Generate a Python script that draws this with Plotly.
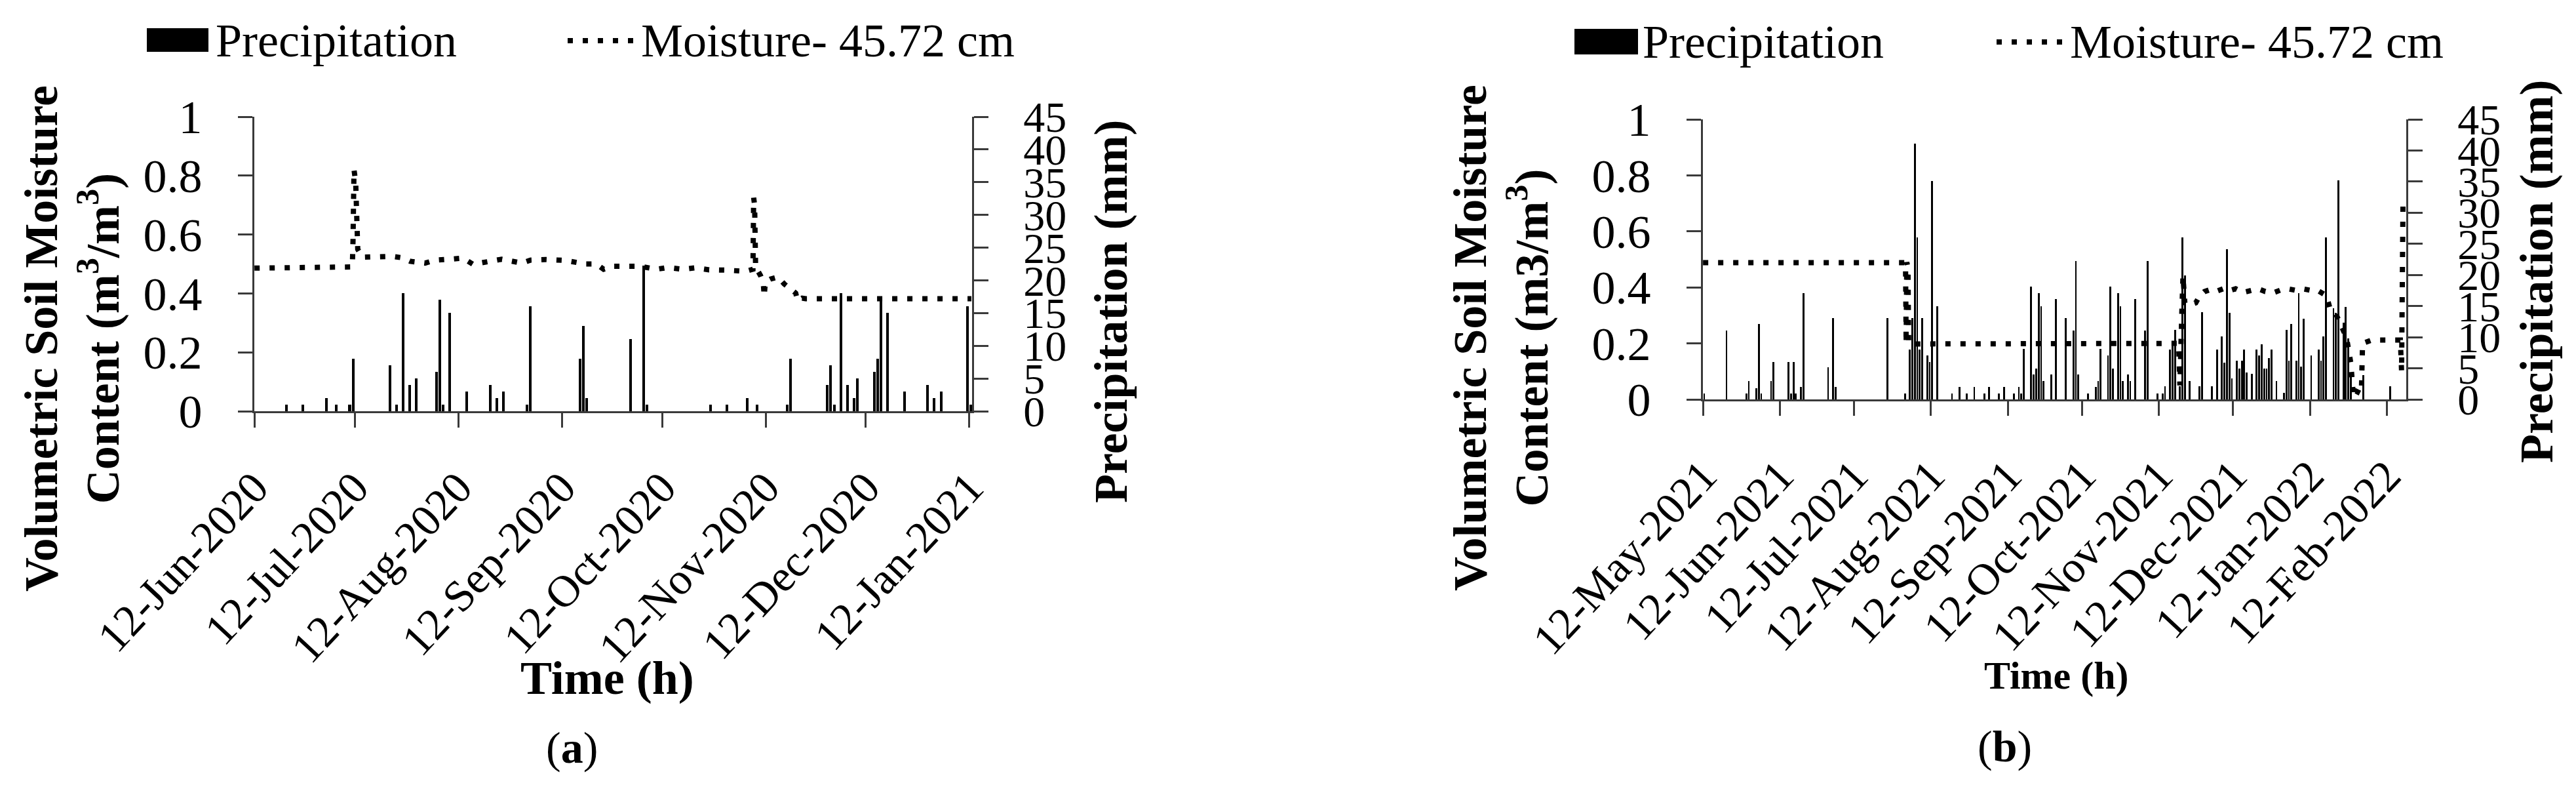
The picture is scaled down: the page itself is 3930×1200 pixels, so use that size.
import plotly.graph_objects as go

# ------------------------------------------------------------------ data (a)
a_precip_dates = ["2020-06-21", "2020-06-26", "2020-07-03", "2020-07-06", "2020-07-10", "2020-07-11",
                  "2020-07-22", "2020-07-24", "2020-07-26", "2020-07-28", "2020-07-30", "2020-08-05",
                  "2020-08-06", "2020-08-07", "2020-08-09", "2020-08-14", "2020-08-21", "2020-08-23",
                  "2020-08-25", "2020-09-01", "2020-09-02", "2020-09-17", "2020-09-18", "2020-09-19",
                  "2020-10-02", "2020-10-06", "2020-10-07", "2020-10-26", "2020-10-31", "2020-11-06",
                  "2020-11-09", "2020-11-18", "2020-11-19", "2020-11-30", "2020-12-01", "2020-12-02",
                  "2020-12-04", "2020-12-06", "2020-12-08", "2020-12-09", "2020-12-14", "2020-12-15",
                  "2020-12-16", "2020-12-18", "2020-12-23", "2020-12-30", "2021-01-01", "2021-01-03",
                  "2021-01-11", "2021-01-12"]
a_precip_mm = [1.0, 1.0, 2.0, 1.0, 1.0, 8.0,
               7.0, 1.0, 18.0, 4.0, 5.0, 6.0,
               17.0, 1.0, 15.0, 3.0, 4.0, 2.0,
               3.0, 1.0, 16.0, 8.0, 13.0, 2.0,
               11.0, 22.2, 1.0, 1.0, 1.0, 2.0,
               1.0, 1.0, 8.0, 4.0, 7.0, 1.0,
               18.0, 4.0, 2.0, 5.0, 6.0, 8.0,
               17.0, 15.0, 3.0, 4.0, 2.0, 3.0,
               16.0, 1.0]

a_moist_time = ["2020-06-12 00:00", "2020-07-11 00:00", "2020-07-11 07:00", "2020-07-11 12:00",
                "2020-07-11 19:00", "2020-07-12 07:00", "2020-07-12 14:00", "2020-07-12 22:00",
                "2020-07-14 07:00", "2020-07-23 07:00", "2020-07-26 07:00", "2020-07-28 14:00",
                "2020-08-02 02:00", "2020-08-05 02:00", "2020-08-10 10:00", "2020-08-13 10:00",
                "2020-08-16 10:00", "2020-08-22 10:00", "2020-08-25 00:00", "2020-08-31 00:00",
                "2020-09-02 14:00", "2020-09-07 02:00", "2020-09-13 02:00", "2020-09-19 02:00",
                "2020-09-22 07:00", "2020-09-24 12:00", "2020-09-27 05:00", "2020-10-05 10:00",
                "2020-10-10 07:00", "2020-10-13 17:00", "2020-10-18 05:00", "2020-10-22 00:00",
                "2020-10-26 02:00", "2020-10-31 10:00", "2020-11-03 10:00", "2020-11-06 00:00",
                "2020-11-08 05:00", "2020-11-08 10:00", "2020-11-08 17:00", "2020-11-09 00:00",
                "2020-11-10 12:00", "2020-11-11 07:00", "2020-11-11 14:00", "2020-11-11 22:00",
                "2020-11-13 12:00", "2020-11-15 17:00", "2020-11-17 14:00", "2020-11-19 12:00",
                "2020-11-21 00:00", "2020-11-21 14:00", "2020-11-22 22:00", "2020-11-24 00:00",
                "2021-01-12 14:00"]
a_moist_val = [0.486, 0.486, 0.49, 0.58,
               0.82, 0.78, 0.60, 0.55,
               0.523, 0.526, 0.521, 0.509,
               0.503, 0.513, 0.517, 0.520,
               0.499, 0.509, 0.516, 0.503,
               0.513, 0.515, 0.512, 0.500,
               0.500, 0.482, 0.492, 0.492,
               0.482, 0.488, 0.482, 0.487,
               0.480, 0.479, 0.475, 0.475,
               0.482, 0.725, 0.70, 0.49,
               0.460, 0.435, 0.390, 0.440,
               0.449, 0.456, 0.432, 0.415,
               0.401, 0.375, 0.384, 0.382,
               0.382]

a_tick_dates = ["2020-06-12", "2020-07-12", "2020-08-12", "2020-09-12",
                "2020-10-12", "2020-11-12", "2020-12-12", "2021-01-12"]
a_tick_text = ["12-Jun-2020", "12-Jul-2020", "12-Aug-2020", "12-Sep-2020",
               "12-Oct-2020", "12-Nov-2020", "12-Dec-2020", "12-Jan-2021"]
a_xrange = ["2020-06-11 23:00", "2021-01-12 19:00"]

# ------------------------------------------------------------------ data (b)
b_precip_dates = ["2021-05-12", "2021-05-21", "2021-05-29", "2021-05-30", "2021-06-02", "2021-06-03",
                  "2021-06-04", "2021-06-08", "2021-06-09", "2021-06-15", "2021-06-16", "2021-06-17",
                  "2021-06-18", "2021-06-20", "2021-06-21", "2021-07-01", "2021-07-03", "2021-07-04",
                  "2021-07-25", "2021-08-01", "2021-08-03", "2021-08-04", "2021-08-05", "2021-08-06",
                  "2021-08-07", "2021-08-08", "2021-08-10", "2021-08-11", "2021-08-12", "2021-08-14",
                  "2021-08-20", "2021-08-23", "2021-08-26", "2021-08-29", "2021-09-02", "2021-09-04",
                  "2021-09-08", "2021-09-10", "2021-09-14", "2021-09-16", "2021-09-17", "2021-09-18",
                  "2021-09-21", "2021-09-22", "2021-09-23", "2021-09-24", "2021-09-25", "2021-09-26",
                  "2021-09-29", "2021-10-01", "2021-10-05", "2021-10-08", "2021-10-09", "2021-10-10",
                  "2021-10-14", "2021-10-17", "2021-10-18", "2021-10-19", "2021-10-22", "2021-10-23",
                  "2021-10-24", "2021-10-26", "2021-10-27", "2021-10-28", "2021-10-30", "2021-10-31",
                  "2021-11-02", "2021-11-06", "2021-11-07", "2021-11-11", "2021-11-13", "2021-11-14",
                  "2021-11-16", "2021-11-17", "2021-11-18", "2021-11-20", "2021-11-21", "2021-11-22",
                  "2021-11-24", "2021-11-28", "2021-11-29", "2021-12-03", "2021-12-05", "2021-12-07",
                  "2021-12-08", "2021-12-09", "2021-12-10", "2021-12-11", "2021-12-13", "2021-12-14",
                  "2021-12-15", "2021-12-16", "2021-12-17", "2021-12-19", "2021-12-21", "2021-12-22",
                  "2021-12-23", "2021-12-24", "2021-12-25", "2021-12-26", "2021-12-27", "2021-12-29",
                  "2022-01-01", "2022-01-02", "2022-01-03", "2022-01-04", "2022-01-06", "2022-01-07",
                  "2022-01-08", "2022-01-09", "2022-01-12", "2022-01-15", "2022-01-16", "2022-01-17",
                  "2022-01-18", "2022-01-21", "2022-01-22", "2022-01-23", "2022-01-25", "2022-01-26",
                  "2022-01-27", "2022-01-28", "2022-02-02", "2022-02-13"]
b_precip_mm = [1.0, 11.1, 1.0, 2.9, 1.8, 12.1,
               1.0, 2.9, 6.0, 6.0, 1.0, 6.0,
               1.0, 2.0, 17.1, 5.2, 13.1, 2.0,
               13.1, 1.0, 8.0, 13.1, 41.1, 26.0,
               8.0, 13.1, 7.1, 6.0, 35.1, 15.0,
               1.0, 2.0, 1.0, 2.0, 1.0, 2.0,
               1.0, 2.0, 1.0, 2.0, 1.0, 8.1,
               18.1, 4.0, 5.0, 17.1, 15.0, 2.9,
               4.0, 16.1, 13.1, 11.1, 22.2, 4.0,
               1.0, 2.0, 2.9, 8.1, 7.1, 18.1,
               5.0, 17.1, 15.0, 2.9, 4.0, 2.9,
               16.1, 11.1, 22.2, 1.0, 1.0, 2.1,
               8.0, 9.4, 11.2, 2.1, 26.0, 19.9,
               3.0, 2.1, 14.0, 2.1, 8.0, 10.1,
               5.9, 24.1, 13.9, 3.4, 6.2, 5.0,
               6.2, 8.0, 4.3, 4.1, 8.0, 7.1,
               8.9, 5.0, 5.0, 6.6, 8.0, 3.0,
               1.1, 11.2, 6.2, 12.1, 6.2, 17.1,
               5.3, 13.0, 7.1, 8.0, 6.2, 10.1,
               26.0, 14.6, 13.9, 35.2, 12.3, 14.9,
               9.8, 3.9, 3.9, 2.1]

b_moist_time = ["2021-05-12 00:00", "2021-08-01 18:00", "2021-08-02 00:00", "2021-08-02 06:00",
                "2021-08-02 12:00", "2021-08-02 18:00", "2021-08-03 00:00", "2021-08-03 12:00",
                "2021-11-20 00:00", "2021-11-20 12:00", "2021-11-21 06:00", "2021-11-21 18:00",
                "2021-11-22 12:00", "2021-11-24 00:00", "2021-11-26 22:00", "2021-11-28 12:00",
                "2021-11-30 10:00", "2021-12-02 17:00", "2021-12-05 00:00", "2021-12-08 00:00",
                "2021-12-10 00:00", "2021-12-13 00:00", "2021-12-16 00:00", "2021-12-19 00:00",
                "2021-12-22 00:00", "2021-12-25 00:00", "2021-12-28 00:00", "2021-12-31 00:00",
                "2022-01-03 00:00", "2022-01-06 00:00", "2022-01-09 00:00", "2022-01-12 00:00",
                "2022-01-15 00:00", "2022-01-18 17:00", "2022-01-19 22:00", "2022-01-22 05:00",
                "2022-01-24 12:00", "2022-01-26 19:00", "2022-01-28 12:00", "2022-01-29 14:00",
                "2022-01-30 12:00", "2022-02-01 18:00", "2022-02-02 06:00", "2022-02-06 00:00",
                "2022-02-17 12:00", "2022-02-18 00:00", "2022-02-18 14:00"]
b_moist_val = [0.488, 0.488, 0.20, 0.49,
               0.20, 0.47, 0.20, 0.198,
               0.200, 0.05, 0.30, 0.44,
               0.345, 0.335, 0.345, 0.37,
               0.385, 0.392, 0.385, 0.395,
               0.387, 0.395, 0.382, 0.390,
               0.395, 0.385, 0.380, 0.390,
               0.395, 0.390, 0.395, 0.390,
               0.390, 0.370, 0.330, 0.310,
               0.270, 0.220, 0.130, 0.010,
               0.030, 0.020, 0.200, 0.212,
               0.212, 0.100, 0.720]

b_tick_dates = ["2021-05-12", "2021-06-12", "2021-07-12", "2021-08-12", "2021-09-12",
                "2021-10-12", "2021-11-12", "2021-12-12", "2022-01-12", "2022-02-12"]
b_tick_text = ["12-May-2021", "12-Jun-2021", "12-Jul-2021", "12-Aug-2021", "12-Sep-2021",
               "12-Oct-2021", "12-Nov-2021", "12-Dec-2021", "12-Jan-2022", "12-Feb-2022"]
b_xrange = ["2021-05-11 23:00", "2022-02-19 21:00"]

moist_ticks = [0, 0.2, 0.4, 0.6, 0.8, 1]
moist_tick_text = ["0", "0.2", "0.4", "0.6", "0.8", "1"]
precip_ticks = [0, 5, 10, 15, 20, 25, 30, 35, 40, 45]

# ------------------------------------------------------------------ styling
W, H = 3930, 1200
FONT = "Liberation Serif, Times New Roman, serif"
AX = "#3a3a3a"
DAY = 86400000


def px(x):
    return x / W


def py(y):
    return 1 - y / H


fig = go.Figure()

fig.add_trace(go.Bar(x=a_precip_dates, y=a_precip_mm, xaxis="x", yaxis="y",
                     width=DAY * 0.8, offset=DAY * 0.1,
                     marker=dict(color="black", line=dict(width=0)), showlegend=False,
                     name="Precipitation"))
fig.add_trace(go.Scatter(x=a_moist_time, y=a_moist_val, xaxis="x", yaxis="y2", mode="lines",
                         line=dict(color="black", width=8, dash="8px,15px"), showlegend=False,
                         name="Moisture- 45.72 cm"))
fig.add_trace(go.Bar(x=b_precip_dates, y=b_precip_mm, xaxis="x2", yaxis="y3",
                     width=DAY * 0.75, offset=DAY * 0.12,
                     marker=dict(color="black", line=dict(width=0)), showlegend=False,
                     name="Precipitation"))
fig.add_trace(go.Scatter(x=b_moist_time, y=b_moist_val, xaxis="x2", yaxis="y4", mode="lines",
                         line=dict(color="black", width=8, dash="8px,15px"), showlegend=False,
                         name="Moisture- 45.72 cm"))

tickfont = dict(family=FONT, size=72, color="black")
xtickfont = dict(family=FONT, size=68, color="black")
rtickfont = dict(family=FONT, size=66, color="black")
common = dict(showgrid=False, zeroline=False, showline=True, linecolor=AX, linewidth=3,
              ticks="outside", ticklen=22, tickwidth=3, tickcolor=AX, automargin=False)


def xax(dom, anchor, rng, tv, tt):
    return dict(domain=dom, anchor=anchor, type="date", range=rng, tickvals=tv, ticktext=tt,
                tickangle=-47, tickfont=xtickfont, ticklabelstandoff=24, **common)


fig.update_layout(
    template="none",
    width=W, height=H, margin=dict(l=0, r=0, t=0, b=0, pad=0), autosize=False,
    paper_bgcolor="white", plot_bgcolor="rgba(0,0,0,0)", showlegend=False, bargap=0,
    font=dict(family=FONT, color="black"),
    xaxis=xax([px(388), px(1483)], "y", a_xrange, a_tick_dates, a_tick_text),
    xaxis2=xax([px(2598), px(3671)], "y3", b_xrange, b_tick_dates, b_tick_text),
    yaxis=dict(domain=[py(627), py(178)], anchor="x", side="right", range=[0, 45],
               tickvals=precip_ticks, tickfont=rtickfont, ticklabelstandoff=40, **common),
    yaxis2=dict(overlaying="y", anchor="x", side="left", range=[0, 1],
                tickvals=moist_ticks, ticktext=moist_tick_text, tickfont=tickfont,
                ticklabelstandoff=40, **common),
    yaxis3=dict(domain=[py(609), py(182)], anchor="x2", side="right", range=[0, 45],
                tickvals=precip_ticks, tickfont=rtickfont, ticklabelstandoff=40, **common),
    yaxis4=dict(overlaying="y3", anchor="x2", side="left", range=[0, 1],
                tickvals=moist_ticks, ticktext=moist_tick_text, tickfont=tickfont,
                ticklabelstandoff=40, **common),
)

ann = []


def text(x, y, s, size=72, angle=0, xanchor="center"):
    ann.append(dict(x=px(x), y=py(y), xref="paper", yref="paper", text=s, showarrow=False,
                    textangle=angle, xanchor=xanchor, yanchor="middle",
                    font=dict(family=FONT, size=size, color="black")))


# axis titles
text(110, 516, "<b>Volumetric Soil Moisture<br>Content (m<sup>3</sup>/m<sup>3</sup>)</b>", 72, -90)
text(2290, 515, "<b>Volumetric Soil Moisture<br>Content (m3/m<sup>3</sup>)</b>", 72, -90)
text(1695, 475, "<b>Precipitation (mm)</b>", 72, -90)
text(3870, 414, "<b>Precipitation (mm)</b>", 72, -90)
text(926, 1034, "<b>Time (h)</b>", 72)
text(3137, 1030, "<b>Time (h)</b>", 60)
text(872, 1140, "(<b>a</b>)", 68)
text(3058, 1138, "(<b>b</b>)", 68)

# legends
text(327, 62, "Precipitation", 72, xanchor="left")
text(976, 62, "Moisture- 45.72 cm", 72, xanchor="left")
text(2504, 64, "Precipitation", 72, xanchor="left")
text(3156, 64, "Moisture- 45.72 cm", 72, xanchor="left")

shapes = [
    dict(type="rect", xref="paper", yref="paper", x0=px(224), x1=px(318), y0=py(79), y1=py(43),
         fillcolor="black", line=dict(width=0)),
    dict(type="line", xref="paper", yref="paper", x0=px(866), x1=px(972), y0=py(62), y1=py(62),
         line=dict(color="black", width=8, dash="8px,15px")),
    dict(type="rect", xref="paper", yref="paper", x0=px(2402), x1=px(2499), y0=py(83), y1=py(44),
         fillcolor="black", line=dict(width=0)),
    dict(type="line", xref="paper", yref="paper", x0=px(3046), x1=px(3152), y0=py(64), y1=py(64),
         line=dict(color="black", width=8, dash="8px,15px")),
]

fig.update_layout(annotations=ann, shapes=shapes)

fig.write_html("out.html", config={"displayModeBar": False},
               post_script="document.body.style.margin='0';document.body.style.overflow='hidden';")
